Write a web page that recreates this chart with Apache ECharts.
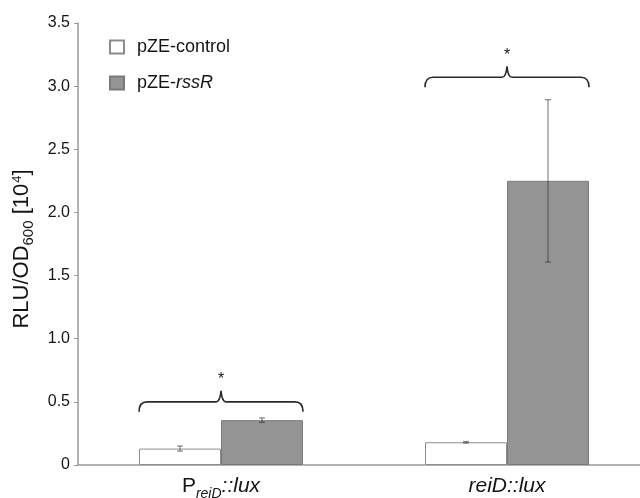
<!DOCTYPE html>
<html><head><meta charset="utf-8">
<script src="https://cdn.jsdelivr.net/npm/echarts@6/dist/echarts.min.js"></script>
<style>html,body{margin:0;padding:0;background:#fff}#c{width:640px;height:498px}</style>
</head><body><div id="c"></div>
<script>
// ---- data ----
const categories = ['PreiD::lux', 'reiD::lux'];
const seriesNames = ['pZE-control', 'pZE-rssR'];
const controlValues = [0.13, 0.18];
const controlErrors = [0.02, 0.006];
const rssRValues = [0.355, 2.25];
const rssRErrors = [0.018, 0.643];
const braceLevels = [0.5, 3.07];
const significance = ['*', '*'];
const yTicks = [0, 0.5, 1.0, 1.5, 2.0, 2.5, 3.0, 3.5];

// ---- styles ----
const FONT = '"Liberation Sans", Arial, Helvetica, sans-serif';
const TEXT = '#151515';
const AXIS = '#9a9a9a';
const BAR_W = 82;

const chart = echarts.init(document.getElementById('c'));

function errorSeries(values, errors, side) {
  return {
    type: 'custom',
    data: values.map((v, i) => [i, v, errors[i]]),
    encode: { x: 0, y: 1 },
    z: 5,
    silent: true,
    renderItem: function (params, api) {
      const i = api.value(0), v = api.value(1), e = api.value(2);
      const c = api.coord([i, v]);
      const x = c[0] + side * BAR_W / 2;
      const yt = api.coord([i, v + e])[1];
      const yb = api.coord([i, v - e])[1];
      const st = { stroke: 'rgba(40,40,40,0.55)', lineWidth: 1.2 };
      return {
        type: 'group',
        children: [
          { type: 'line', shape: { x1: x, y1: yt, x2: x, y2: yb }, style: st },
          { type: 'line', shape: { x1: x - 3, y1: yt, x2: x + 3, y2: yt }, style: st },
          { type: 'line', shape: { x1: x - 3, y1: yb, x2: x + 3, y2: yb }, style: st }
        ]
      };
    }
  };
}

const option = {
  backgroundColor: '#fff',
  animation: false,
  textStyle: { fontFamily: FONT },
  grid: { left: 78, top: 23, bottom: 33, width: 572, containLabel: false, outerBoundsMode: 'none' },
  legend: {
    orient: 'vertical', left: 104, top: 33, itemWidth: 14, itemHeight: 13, itemGap: 18,
    selectedMode: false, icon: 'rect',
    textStyle: {
      fontSize: 18, color: TEXT, fontFamily: FONT, padding: [0, 0, 0, 8],
      rich: {
        n: { fontSize: 18, color: TEXT, fontFamily: FONT },
        i: { fontSize: 18, color: TEXT, fontFamily: FONT, fontStyle: 'italic' }
      }
    },
    formatter: function (name) {
      if (name === 'pZE-rssR') return '{n|pZE-}{i|rssR}';
      return '{n|' + name + '}';
    },
    data: seriesNames
  },
  xAxis: {
    type: 'category',
    data: categories,
    axisLine: { lineStyle: { color: AXIS, width: 1.5 } },
    axisTick: { show: false },
    axisLabel: {
      margin: 11,
      formatter: function (v) {
        if (v === 'PreiD::lux') return '{a|P}{s|reiD}{i|::lux}';
        return '{i|reiD::lux}';
      },
      rich: {
        a: { fontSize: 21, color: TEXT, fontFamily: FONT, lineHeight: 24, verticalAlign: 'top' },
        i: { fontSize: 21, color: TEXT, fontFamily: FONT, fontStyle: 'italic', lineHeight: 24, verticalAlign: 'top' },
        s: { fontSize: 14, color: TEXT, fontFamily: FONT, fontStyle: 'italic', lineHeight: 14, padding: [11, 0, 0, 0], verticalAlign: 'top' }
      }
    }
  },
  yAxis: {
    type: 'value',
    min: yTicks[0], max: yTicks[yTicks.length - 1], interval: yTicks[1] - yTicks[0],
    axisLine: { show: true, lineStyle: { color: AXIS, width: 1.5 } },
    axisTick: { show: true, length: 4, lineStyle: { color: AXIS, width: 1 } },
    splitLine: { show: false },
    axisLabel: {
      fontSize: 16, color: TEXT, fontFamily: FONT, margin: 8,
      formatter: function (v) { return v === 0 ? '0' : v.toFixed(1); }
    },
    name: '{a|RLU/OD}{sub|600}{a| [10}{sup|4}{a|]}',
    nameLocation: 'middle', nameRotate: 90, nameGap: 40,
    nameTextStyle: {
      padding: [0, 10, 0, 0],
      rich: {
        a: { fontSize: 22, color: TEXT, fontFamily: FONT, lineHeight: 24, verticalAlign: 'top' },
        sub: { fontSize: 15, color: TEXT, fontFamily: FONT, lineHeight: 15, padding: [11, 0, 0, 0], verticalAlign: 'top' },
        sup: { fontSize: 13, color: TEXT, fontFamily: FONT, lineHeight: 13, padding: [0, 0, 0, 1], verticalAlign: 'top' }
      }
    }
  },
  series: [
    {
      name: seriesNames[0], type: 'bar', data: controlValues, barWidth: BAR_W, barGap: '0%',
      itemStyle: { color: '#ffffff', borderColor: '#8c8c8c', borderWidth: 1 }
    },
    {
      name: seriesNames[1], type: 'bar', data: rssRValues, barWidth: BAR_W, barGap: '0%',
      itemStyle: { color: '#949494', borderColor: '#7a7a7a', borderWidth: 1 }
    },
    errorSeries(controlValues, controlErrors, -1),
    errorSeries(rssRValues, rssRErrors, 1),
    {
      type: 'custom',
      data: braceLevels.map((v, i) => [i, v, significance[i]]),
      encode: { x: 0, y: 1 },
      z: 6, silent: true,
      renderItem: function (params, api) {
        const i = api.value(0), v = api.value(1);
        const c = api.coord([i, v]);
        const cx = c[0], y = c[1];
        const x0 = cx - BAR_W, x1 = cx + BAR_W;
        const d = 'M' + x0 + ' ' + (y + 10) +
          ' Q' + x0 + ' ' + y + ' ' + (x0 + 8) + ' ' + y +
          ' L' + (cx - 5) + ' ' + y +
          ' Q' + (cx - 1) + ' ' + y + ' ' + cx + ' ' + (y - 11) +
          ' Q' + (cx + 1) + ' ' + y + ' ' + (cx + 5) + ' ' + y +
          ' L' + (x1 - 8) + ' ' + y +
          ' Q' + x1 + ' ' + y + ' ' + x1 + ' ' + (y + 10);
        return {
          type: 'group',
          children: [
            { type: 'path', shape: { pathData: d }, style: { stroke: '#2a2a2a', lineWidth: 1.6, fill: null } },
            { type: 'text', style: { text: significance[i], x: cx, y: y - 22, align: 'center', verticalAlign: 'middle',
              fontSize: 16, fontFamily: FONT, fill: TEXT } }
          ]
        };
      }
    }
  ]
};
chart.setOption(option);
</script>
</body></html>
